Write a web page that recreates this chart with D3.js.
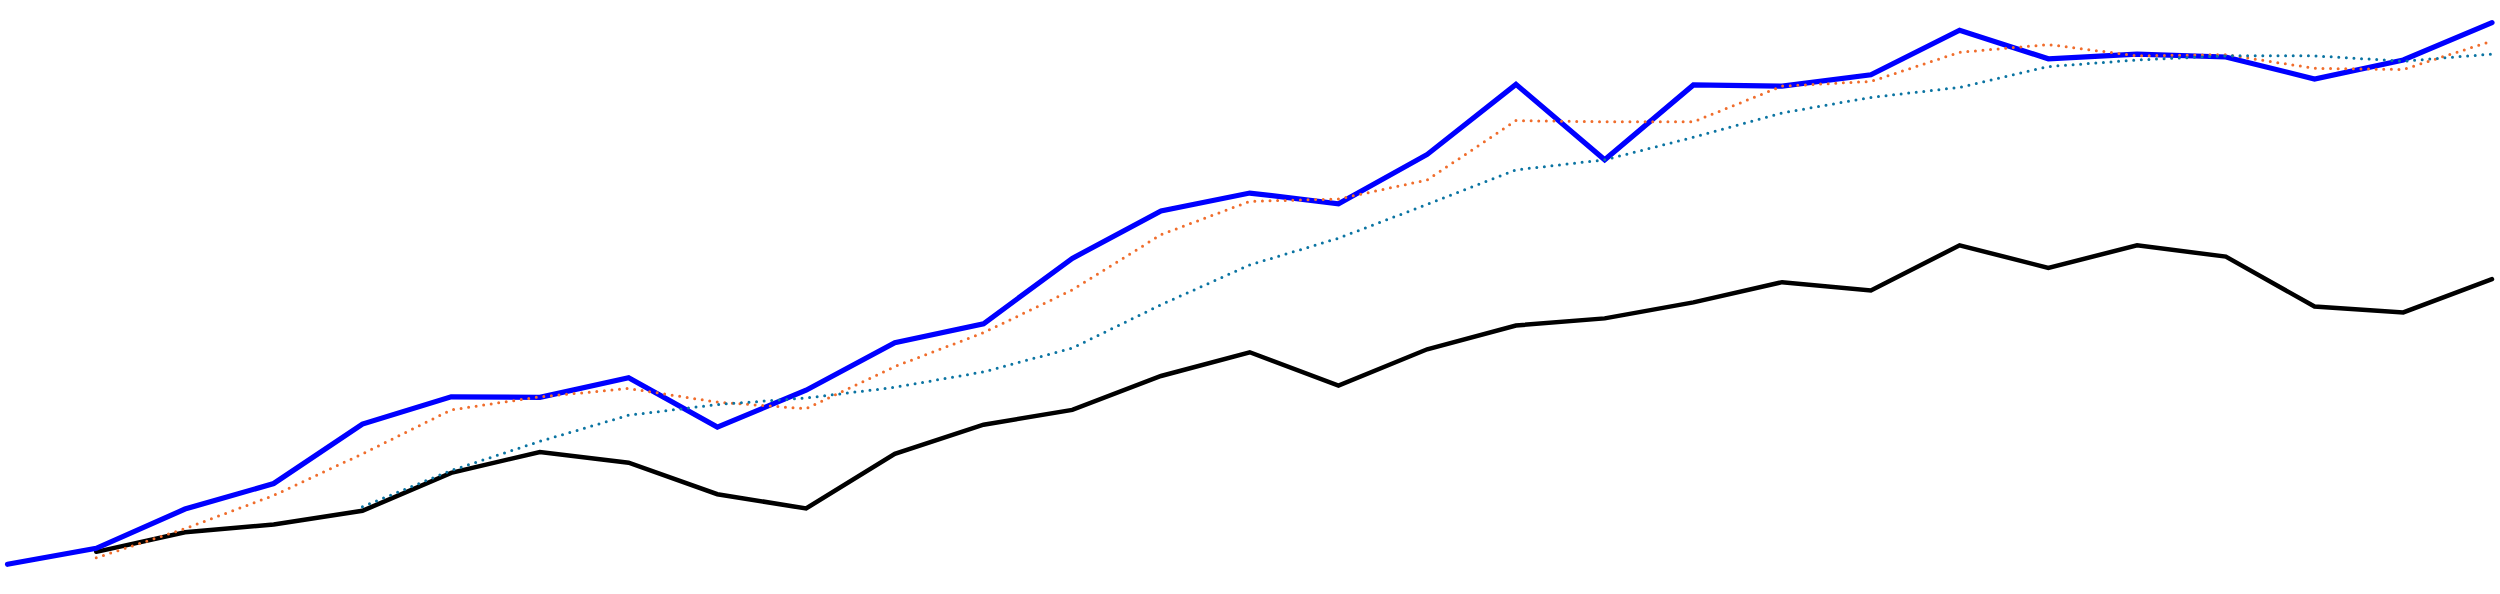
<!DOCTYPE html>
<html>
<head>
<meta charset="utf-8">
<script src="https://cdn.jsdelivr.net/npm/d3@7"></script>
<style>
  html, body { margin: 0; padding: 0; background: #ffffff; }
  svg { display: block; }
</style>
</head>
<body>
<svg id="chart" width="2500" height="594"></svg>
<script>
// ---- data ----
const categories = ["1","2","3","4","5","6","7","8","9","10","11","12","13","14","15",
  "16","17","18","19","20","21","22","23","24","25","26","27","28","29"];

const blueSeries = [5.0, 7.7, 14.3, 18.6, 28.6, 33.2, 33.1, 36.4, 28.1, 34.3, 42.3, 45.5, 56.5, 64.5, 67.5,
  65.7, 74.0, 85.8, 73.1, 85.7, 85.5, 87.4, 94.9, 90.1, 90.9, 90.4, 86.7, 89.9, 96.2];

const blackSeries = [null, 7.1, 10.4, 11.7, 14.0, 20.4, 23.9, 22.1, 16.8, 14.4, 23.6, 28.5, 31.0, 36.7, 40.7,
  35.1, 41.2, 45.2, 46.4, 49.1, 52.5, 51.1, 58.7, 54.9, 58.7, 56.8, 48.4, 47.4, 53.0];

const orangeSeries = [null, 6.1, 11.0, 16.6, 23.6, 31.0, 33.2, 34.6, 32.3, 31.2, 38.3, 44.0, 51.2, 60.5, 66.1,
  66.5, 69.7, 79.7, 79.5, 79.5, 85.5, 86.3, 91.2, 92.5, 90.6, 90.8, 88.5, 88.3, 93.1];

const tealSeries = [null, null, null, null, 14.7, 20.8, 25.7, 30.1, 31.9, 33.0, 34.8, 37.4, 41.4, 48.7, 55.4,
  59.9, 65.6, 71.4, 73.1, 76.9, 81.0, 83.6, 85.3, 88.8, 89.9, 90.6, 90.6, 89.7, 90.9];

// ---- layout ----
const W = 2500, H = 594;
const svg = d3.select("#chart");

const x = d3.scalePoint().domain(categories).range([7.5, 2492]);
const y = d3.scaleLinear().domain([0, 100]).range([H, 0]);

function lineFor(values) {
  return d3.line()
    .defined(d => d.v !== null)
    .x(d => x(d.c))
    .y(d => y(d.v))(values.map((v, i) => ({ c: categories[i], v: v })));
}

const series = [
  { values: blackSeries,  color: "#000000", width: 4.5, dash: null },
  { values: blueSeries,   color: "#0000ff", width: 5.2, dash: null },
  { values: orangeSeries, color: "#f06d2c", width: 3, dash: "0 7.6" },
  { values: tealSeries,   color: "#0b74a2", width: 3, dash: "0 7.6" }
];

svg.selectAll("path.series")
  .data(series)
  .enter()
  .append("path")
  .attr("class", "series")
  .attr("d", d => lineFor(d.values))
  .attr("fill", "none")
  .attr("stroke", d => d.color)
  .attr("stroke-width", d => d.width)
  .attr("stroke-linecap", "round")
  .attr("stroke-linejoin", "miter")
  .attr("stroke-dasharray", d => d.dash);
</script>
</body>
</html>
